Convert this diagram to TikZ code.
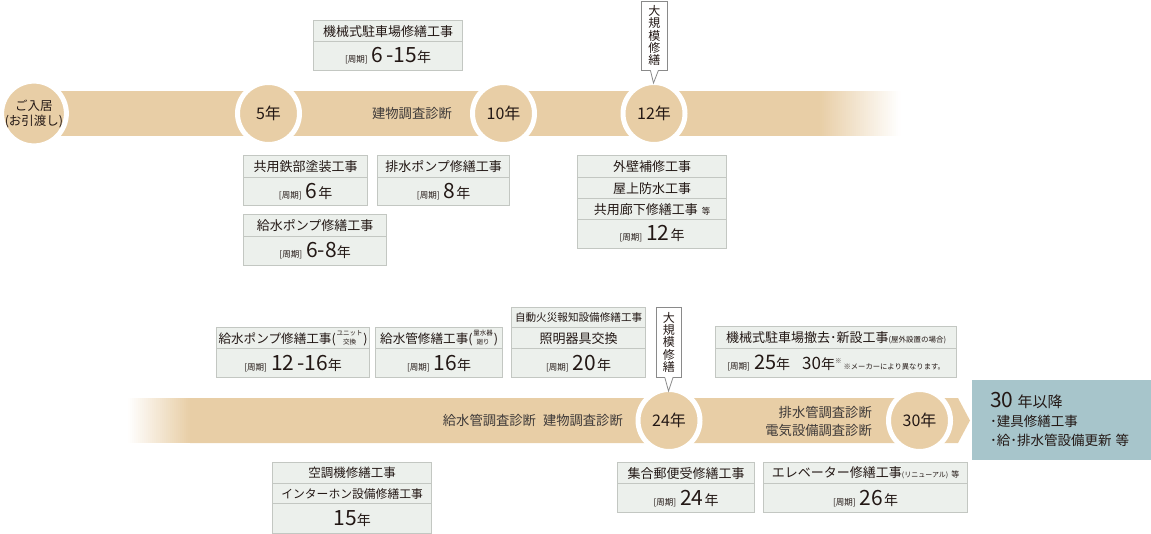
\documentclass[tikz,border=0pt]{standalone}
\usepackage{fontspec}
\setmainfont{Noto Sans CJK JP}
\usetikzlibrary{calc}
\definecolor{beige}{HTML}{E8CEA6}
\definecolor{boxfill}{HTML}{ECF0EC}
\definecolor{boxline}{HTML}{C3C7C2}
\definecolor{tealbox}{HTML}{A7C5CB}
\definecolor{ink}{HTML}{231815}
\definecolor{bandtext}{HTML}{3E3A39}
\definecolor{callline}{HTML}{8A8A8A}
\newcommand\jfs[1]{\fontsize{#1}{#1}\selectfont}
\newcommand\shk{{\jfs{8.5}[周期]}\hspace{4pt}}
\newcommand\bignum[1]{{\jfs{21}#1}}
\newcommand\nen{{\jfs{14}年}}
\newcommand\tinystack[1]{\hspace{0.8pt}\raisebox{-1pt}{\fontsize{6.5}{6.8}\selectfont\shortstack{#1}}\hspace{0.8pt}}
\tikzset{
  every node/.style={text=ink},
  cellbox/.style={draw=boxline, fill=boxfill, line width=1.2pt, inner sep=0pt, anchor=north west, font=\jfs{13}},
  ring/.style={circle, fill=beige, draw=white, line width=5pt, inner sep=0pt, minimum size=62pt, font=\jfs{16}},
  callbox/.style={draw=callline, fill=white, line width=0.8pt, inner sep=0pt, anchor=north west, align=center, font=\fontsize{12}{12.4}\selectfont},
  callptr/.style={draw=callline, line width=0.8pt},
  bandlabel/.style={text=bandtext, inner sep=0pt, font=\jfs{13.3}},
  tealtext/.style={anchor=base west, inner sep=0pt, font=\jfs{13.5}},
}
\begin{document}
\begin{tikzpicture}[x=1pt,y=-1pt]
\useasboundingbox (0,0) rectangle (1151,534);
% ---------- bands ----------
\fill[beige] (40,91) rectangle (820.5,136);
\foreach \i in {0,...,39} {
  \pgfmathsetmacro\pc{100-(\i+0.5)*2.5}
  \fill[beige!\pc!white] ({820+2*\i},91) rectangle ({822.6+2*\i},136);
}
\foreach \i in {0,...,30} {
  \pgfmathsetmacro\pc{(\i+0.5)*100/31}
  \fill[beige!\pc!white] ({128+2*\i},398) rectangle ({130.6+2*\i},443);
}
\fill[beige] (190,398) -- (958,398) -- (970,420.5) -- (958,443) -- (190,443) -- cycle;
% ---------- circles ----------
\node[ring, align=center, font=\fontsize{12.5}{15}\selectfont] (c0) at (34,113.5) {ご入居\\(お引渡し)};
\node[ring] (c5) at (268.5,113.5) {5年};
\node[ring] (c10) at (503.5,113.5) {10年};
\node[ring] (c12) at (654,113.5) {12年};
\node[ring] (c24) at (669,420.5) {24年};
\node[ring] (c30) at (919.5,420.5) {30年};
% ---------- band labels ----------
\node[bandlabel] (l1) at (412,113.5) {建物調査診断};
\node[bandlabel, anchor=east] (l2) at (623,420.5) {給水管調査診断\hspace{7pt}建物調査診断};
\node[bandlabel, anchor=east, align=right, font=\fontsize{13.3}{17.5}\selectfont] (l3) at (872,421.5) {排水管調査診断\\電気設備調査診断};
% ---------- top boxes ----------
\node[cellbox, minimum width=149, minimum height=21] (t1a) at (313,20) {機械式駐車場修繕工事};
\node[cellbox, minimum width=149, minimum height=29] (t1b) at (313,41) {\shk\bignum{6\hspace{3pt}-15}\nen};
\node[cellbox, minimum width=124, minimum height=22] (t2a) at (243,155) {共用鉄部塗装工事};
\node[cellbox, minimum width=124, minimum height=28] (t2b) at (243,177) {\shk\bignum{6}\hspace{1pt}\nen};
\node[cellbox, minimum width=132, minimum height=22] (t3a) at (377,155) {排水ポンプ修繕工事};
\node[cellbox, minimum width=132, minimum height=28] (t3b) at (377,177) {\shk\bignum{8}\hspace{1pt}\nen};
\node[cellbox, minimum width=143, minimum height=22] (t4a) at (243,214) {給水ポンプ修繕工事};
\node[cellbox, minimum width=143, minimum height=29] (t4b) at (243,236) {\shk\bignum{6-8}\nen};
\node[cellbox, minimum width=149, minimum height=22] (t5a) at (577,155) {外壁補修工事};
\node[cellbox, minimum width=149, minimum height=21] (t5b) at (577,177) {屋上防水工事};
\node[cellbox, minimum width=149, minimum height=21] (t5c) at (577,198) {共用廊下修繕工事\hspace{4pt}{\jfs{8.5}等}};
\node[cellbox, minimum width=149, minimum height=29] (t5d) at (577,219) {\shk\bignum{12}\hspace{1pt}\nen};
% ---------- bottom boxes ----------
\node[cellbox, minimum width=153, minimum height=21, font=\jfs{12.6}] (b1a) at (216,327) {給水ポンプ修繕工事(\tinystack{ユニット\\交換})};
\node[cellbox, minimum width=153, minimum height=29] (b1b) at (216,348) {\shk\bignum{12\hspace{3pt}-16}\nen};
\node[cellbox, minimum width=127, minimum height=21, font=\jfs{12.6}] (b2a) at (375,327) {給水管修繕工事(\tinystack{量水器\\廻り})};
\node[cellbox, minimum width=127, minimum height=29] (b2b) at (375,348) {\shk\bignum{16}\nen};
\node[cellbox, minimum width=134, minimum height=20, font=\jfs{10.6}] (b3a) at (511,307) {自動火災報知設備修繕工事};
\node[cellbox, minimum width=134, minimum height=21] (b3b) at (511,327) {照明器具交換};
\node[cellbox, minimum width=134, minimum height=29] (b3c) at (511,348) {\shk\bignum{20}\hspace{1pt}\nen};
\node[cellbox, minimum width=241, minimum height=22] (b4a) at (715,326) {機械式駐車場撤去･新設工事{\jfs{7.5}(屋外設置の場合)}};
\node[cellbox, minimum width=241, minimum height=29] (b4b) at (715,348) {\shk{\jfs{20}25}{\jfs{14}年}\hspace{12pt}{\jfs{17}30}{\jfs{14}年}\raisebox{6pt}{\jfs{6.5}※}\hspace{2pt}{\jfs{7.3}※メーカーにより異なります。}};
\node[cellbox, minimum width=159, minimum height=21, font=\jfs{12.5}] (b5a) at (272,462) {空調機修繕工事};
\node[cellbox, minimum width=159, minimum height=20, font=\jfs{11.8}] (b5b) at (272,483) {インターホン設備修繕工事};
\node[cellbox, minimum width=159, minimum height=30] (b5c) at (272,503) {\bignum{15}\nen};
\node[cellbox, minimum width=137, minimum height=21] (b6a) at (617,462) {集合郵便受修繕工事};
\node[cellbox, minimum width=137, minimum height=29] (b6b) at (617,483) {\shk\bignum{24}\hspace{1pt}\nen};
\node[cellbox, minimum width=204, minimum height=21] (b7a) at (763,462) {エレベーター修繕工事{\jfs{7}(リニューアル)}\hspace{3pt}{\jfs{8}等}};
\node[cellbox, minimum width=204, minimum height=29] (b7b) at (763,483) {\shk\bignum{26}\hspace{1pt}\nen};
% ---------- teal box ----------
\node[fill=tealbox, anchor=north west, minimum width=179, minimum height=80, inner sep=0pt] (teal) at (972,380) {};
\node[tealtext] (tx1) at (990,407) {{\jfs{21}30}\hspace{4pt}{\jfs{15}年以降}};
\node[tealtext] (tx2) at (990,426.5) {･建具修繕工事};
\node[tealtext] (tx3) at (990,445.5) {･給･排水管設備更新\hspace{4pt}等};
% ---------- callouts ----------
\node[callbox, minimum width=26, minimum height=69] (k1) at (641,0.6) {大\\規\\模\\修\\繕};
\coordinate (k1t) at (653.5,83);
\fill[white] ($(k1.south)+(-4,-1.2)$) -- ($(k1.south)+(4,-1.2)$) -- (k1t) -- cycle;
\draw[callptr] ($(k1.south)+(-4,0)$) -- (k1t) -- ($(k1.south)+(4,0)$);
\node[callbox, minimum width=25, minimum height=70] (k2) at (656,307) {大\\規\\模\\修\\繕};
\coordinate (k2t) at (668.5,391);
\fill[white] ($(k2.south)+(-4,-1.2)$) -- ($(k2.south)+(4,-1.2)$) -- (k2t) -- cycle;
\draw[callptr] ($(k2.south)+(-4,0)$) -- (k2t) -- ($(k2.south)+(4,0)$);
\end{tikzpicture}
\end{document}
